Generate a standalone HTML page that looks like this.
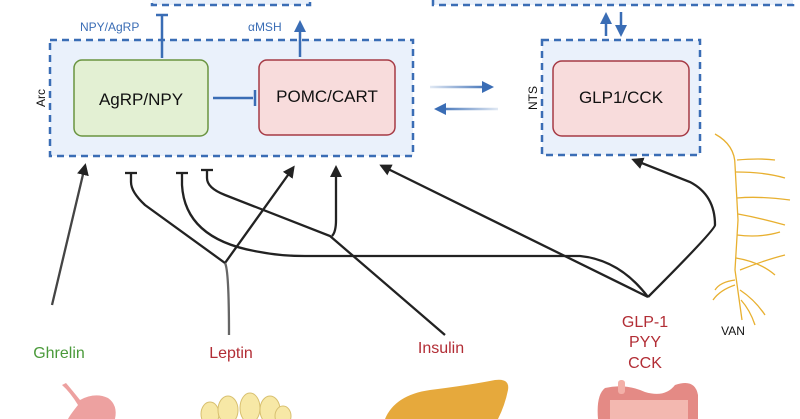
<!DOCTYPE html>
<html><head><meta charset="utf-8"><style>
body{margin:0;background:#fff;}
svg{display:block;font-family:"Liberation Sans","DejaVu Sans",sans-serif;}
</style></head><body>
<svg width="800" height="419" viewBox="0 0 800 419" xmlns="http://www.w3.org/2000/svg">
<defs>
<marker id="ah" markerWidth="12" markerHeight="12" refX="9" refY="6" orient="auto" markerUnits="userSpaceOnUse"><path d="M0,0 L12,6 L0,12 Z" fill="#222"/></marker>
<marker id="bh" markerWidth="12" markerHeight="12" refX="8" refY="6" orient="auto" markerUnits="userSpaceOnUse"><path d="M0,0 L12,6 L0,12 Z" fill="#3a6db5"/></marker>
<linearGradient id="fadeR" gradientUnits="userSpaceOnUse" x1="430" y1="0" x2="490" y2="0"><stop offset="0" stop-color="#3a6db5" stop-opacity="0.15"/><stop offset="1" stop-color="#3a6db5"/></linearGradient>
<linearGradient id="fadeL" gradientUnits="userSpaceOnUse" x1="498" y1="0" x2="438" y2="0"><stop offset="0" stop-color="#3a6db5" stop-opacity="0.15"/><stop offset="1" stop-color="#3a6db5"/></linearGradient>
</defs>
<rect x="152" y="-20" width="158" height="25" fill="#eaf1fb" stroke="#3a6db5" stroke-width="2.5" stroke-dasharray="7,5"/>
<rect x="433" y="-20" width="360" height="25" fill="#eaf1fb" stroke="#3a6db5" stroke-width="2.5" stroke-dasharray="7,5"/>
<rect x="50" y="40" width="363" height="116" fill="#eaf1fb" stroke="#3a6db5" stroke-width="2.5" stroke-dasharray="7,5"/>
<rect x="74" y="60" width="134" height="76" rx="8" fill="#e3f0d3" stroke="#6a9440" stroke-width="1.5"/>
<rect x="259" y="60" width="136" height="75" rx="8" fill="#f8dcdc" stroke="#a63a45" stroke-width="1.5"/>
<text x="141" y="105" font-size="17" text-anchor="middle" fill="#111">AgRP/NPY</text>
<text x="327" y="102" font-size="17" text-anchor="middle" fill="#111">POMC/CART</text>
<text x="45" y="98" font-size="12" fill="#111" transform="rotate(-90 45 98)" text-anchor="middle">Arc</text>
<line x1="213" y1="98" x2="253" y2="98" stroke="#3a6db5" stroke-width="2.5"/>
<line x1="255" y1="90" x2="255" y2="106" stroke="#3a6db5" stroke-width="2.5"/>
<line x1="162" y1="58" x2="162" y2="16" stroke="#3a6db5" stroke-width="2.5"/>
<line x1="156" y1="15" x2="168" y2="15" stroke="#3a6db5" stroke-width="2.5"/>
<text x="80" y="31" font-size="12" fill="#3a6db5">NPY/AgRP</text>
<line x1="300" y1="57" x2="300" y2="24" stroke="#3a6db5" stroke-width="2.5" marker-end="url(#bh)"/>
<text x="248" y="31" font-size="12" fill="#3a6db5">αMSH</text>
<line x1="430" y1="87" x2="490" y2="87" stroke="url(#fadeR)" stroke-width="2.5" marker-end="url(#bh)"/>
<line x1="498" y1="109" x2="438" y2="109" stroke="url(#fadeL)" stroke-width="2.5" marker-end="url(#bh)"/>
<rect x="542" y="40" width="158" height="115" fill="#eaf1fb" stroke="#3a6db5" stroke-width="2.5" stroke-dasharray="7,5"/>
<rect x="553" y="61" width="136" height="75" rx="9" fill="#f8dcdc" stroke="#a63a45" stroke-width="1.5"/>
<text x="621" y="103" font-size="17" text-anchor="middle" fill="#111">GLP1/CCK</text>
<text x="537" y="98" font-size="12" fill="#111" transform="rotate(-90 537 98)" text-anchor="middle">NTS</text>
<line x1="606" y1="36" x2="606" y2="16" stroke="#3a6db5" stroke-width="2.5" marker-end="url(#bh)"/>
<line x1="621" y1="12" x2="621" y2="33" stroke="#3a6db5" stroke-width="2.5" marker-end="url(#bh)"/>
<g fill="none" stroke="#222" stroke-width="2.3">
<line x1="52" y1="305" x2="85" y2="166" marker-end="url(#ah)" stroke="#444"/>
<path d="M131,173 V182 Q131,192 145,205 L225,263 L293,168" marker-end="url(#ah)"/>
<line x1="125" y1="173" x2="137" y2="173"/>
<path d="M225,263 Q229,270 229,335" stroke="#666"/>
<path d="M182,173 V185 Q185,240 260,252 Q280,256 305,256 L580,256 Q620,260 648,297" />
<line x1="176" y1="173" x2="188" y2="173"/>
<path d="M207,170 V178 Q207,188 225,195 L330,236 L445,335" />
<line x1="201" y1="170" x2="213" y2="170"/>
<path d="M332,236 Q336,232 336,220 L336,168" marker-end="url(#ah)"/>
<line x1="648" y1="297" x2="382" y2="166" marker-end="url(#ah)"/>
<path d="M648,297 Q715,230 715,225 Q715,195 690,182 L634,160" marker-end="url(#ah)"/>
</g>
<g font-size="16" text-anchor="middle">
<text x="59" y="358" fill="#4a9a3a">Ghrelin</text>
<text x="231" y="358" fill="#b22d35">Leptin</text>
<text x="441" y="353" fill="#b22d35">Insulin</text>
<text x="645" y="327" fill="#b22d35">GLP-1</text>
<text x="645" y="347" fill="#b22d35">PYY</text>
<text x="645" y="368" fill="#b22d35">CCK</text>
</g>
<text x="733" y="335" font-size="12" text-anchor="middle" fill="#111">VAN</text>
<g fill="none" stroke="#e8b030" stroke-width="1.3">
<path d="M715,134 Q735,145 735,165 L738,220 L735,270 L742,320"/>
<path d="M737,160 Q760,158 775,160"/><path d="M736,172 Q765,172 785,178"/>
<path d="M737,198 Q760,196 790,200"/><path d="M738,214 Q760,218 785,225"/>
<path d="M737,235 Q760,238 780,232"/><path d="M736,258 Q760,262 775,275"/>
<path d="M740,270 Q765,260 785,255"/><path d="M735,280 Q720,282 715,290"/>
<path d="M735,285 Q720,290 713,300"/><path d="M740,290 Q755,300 765,315"/>
<path d="M741,300 Q750,310 755,325"/>
</g>
<path d="M62,385 Q70,392 78,405 Q70,415 68,419 L115,419 Q118,405 108,398 Q95,392 80,400 Q72,390 66,383 Z" fill="#eda1a0"/>
<g fill="#f7e8a6" stroke="#d8c070" stroke-width="1">
<ellipse cx="210" cy="414" rx="9" ry="12"/><ellipse cx="228" cy="410" rx="10" ry="14"/><ellipse cx="250" cy="408" rx="10" ry="15"/><ellipse cx="270" cy="410" rx="10" ry="14"/><ellipse cx="283" cy="416" rx="8" ry="10"/>
</g>
<path d="M385,419 Q395,395 430,390 Q470,385 495,380 Q510,378 508,390 Q505,405 498,419 Z" fill="#e6a93c"/>
<path d="M598,419 Q596,395 605,388 Q625,383 645,392 Q665,398 675,385 Q695,378 698,395 L698,419 Z" fill="#e48a85"/>
<rect x="618" y="380" width="7" height="14" rx="3" fill="#f3b0a8"/>
<path d="M610,419 V400 H688 V419" fill="#f3b8b0"/>
</svg>
</body></html>
